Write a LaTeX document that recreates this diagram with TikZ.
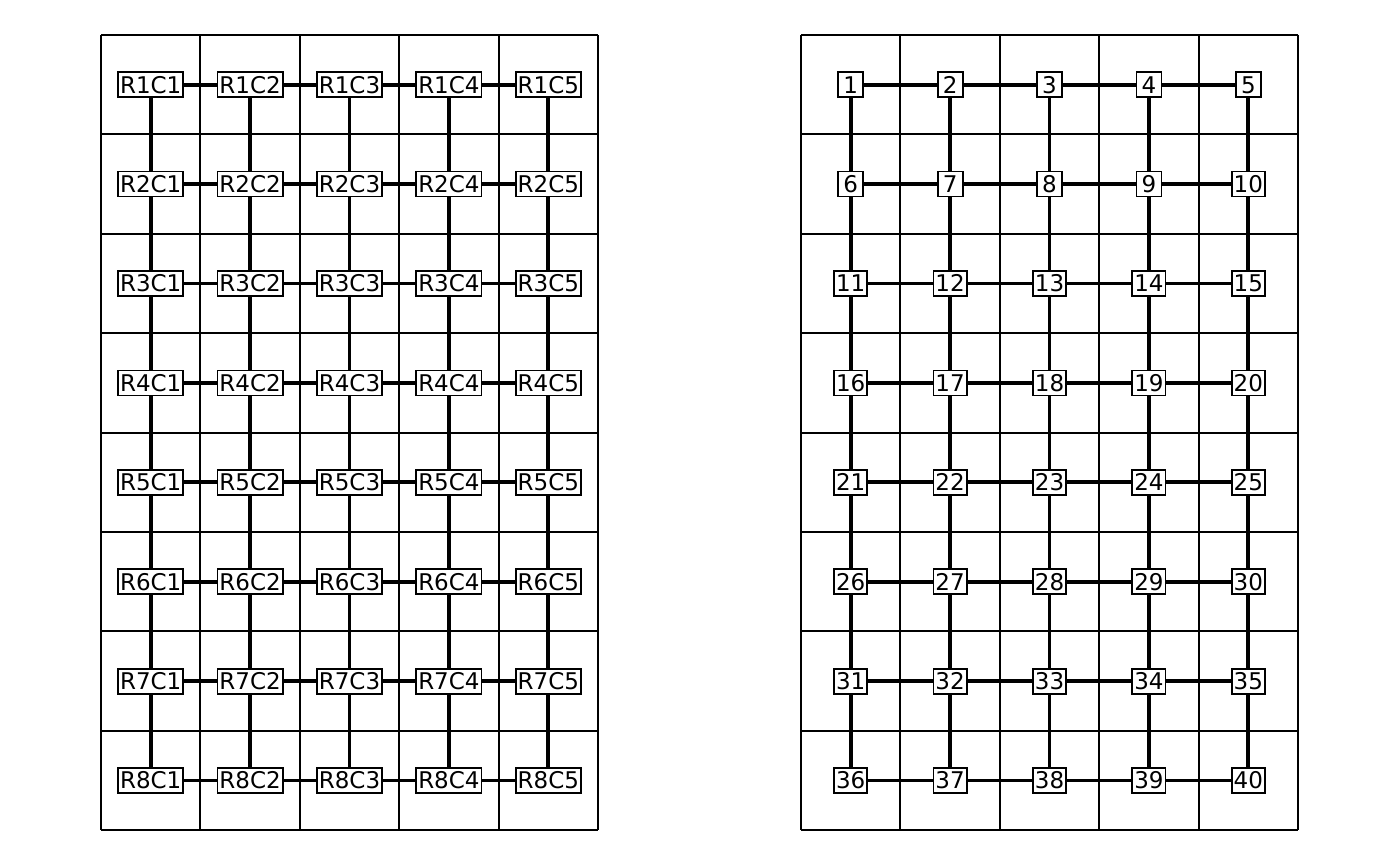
\documentclass[tikz,border=0pt]{standalone}
\usepackage{fontspec}
\setmainfont{DejaVu Sans}
\usetikzlibrary{positioning}
\tikzstyle{gridline} = [line width=1pt]
\tikzstyle{link} = [line width=1.9pt]
\tikzstyle{cell} = [rectangle, draw, fill=white, line width=0.9pt,
  inner xsep=1pt, inner ysep=2pt, text height=8.4pt, text depth=0pt,
  minimum width=12.5pt, minimum height=12.5pt,
  font=\fontsize{11.5pt}{13pt}\selectfont]

\begin{document}
\begin{tikzpicture}[x=0.5pt, y=-0.5pt]
    \useasboundingbox (0,0) rectangle (1400,866);
    % the two panels
    \foreach \px in {101,801} {
      \foreach \i in {0,...,5}
        \draw[gridline] (\px+99.4*\i,35) -- (\px+99.4*\i,830);
      \foreach \j in {0,...,8}
        \draw[gridline] (\px,35+99.4*\j) -- (\px+497,35+99.4*\j);
    }
    % left panel: row/column names
    \foreach \r in {1,...,8}
      \foreach \c in {1,...,5}
        \node[cell] (L\r-\c) at (101+99.4*\c-49.7, 35+99.4*\r-49.7) {R\r C\c};
    % right panel: running numbers
    \foreach \r in {1,...,8}
      \foreach \c in {1,...,5} {
        \pgfmathtruncatemacro{\k}{5*(\r-1)+\c}
        \node[cell] (N\r-\c) at (801+99.4*\c-49.7, 35+99.4*\r-49.7) {\k};
      }
    % links
    \foreach \p in {L,N} {
      \foreach \r in {1,...,8}
        \foreach \c [count=\n from 2] in {1,...,4}
          \draw[link] (\p\r-\c) -- (\p\r-\n);
      \foreach \c in {1,...,5}
        \foreach \r [count=\n from 2] in {1,...,7}
          \draw[link] (\p\r-\c) -- (\p\n-\c);
    }
  \end{tikzpicture}
\end{document}
